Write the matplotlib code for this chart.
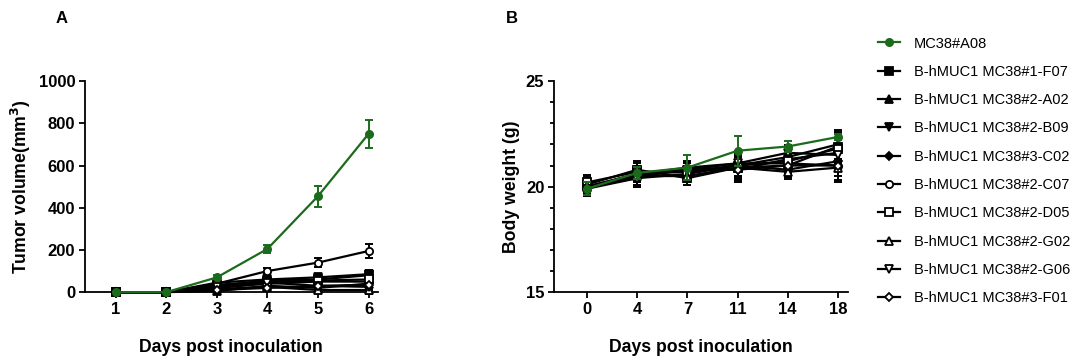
import numpy as np
import matplotlib.pyplot as plt

plt.rcParams['font.family'] = ['Liberation Sans', 'DejaVu Sans']

# Groups and marker styles
groups = ['MC38#A08', 'B-hMUC1 MC38#1-F07', 'B-hMUC1 MC38#2-A02', 'B-hMUC1 MC38#2-B09',
          'B-hMUC1 MC38#3-C02', 'B-hMUC1 MC38#2-C07', 'B-hMUC1 MC38#2-D05',
          'B-hMUC1 MC38#2-G02', 'B-hMUC1 MC38#2-G06', 'B-hMUC1 MC38#3-F01']
markers = ['o', 's', '^', 'v', 'D', 'o', 's', '^', 'v', 'D']
filled = [True, True, True, True, True, False, False, False, False, False]

# Panel A: tumor volume (mm3)
days_a = [1, 2, 3, 4, 5, 6]
vol_a08 = [0, 0, 70, 205, 455, 750]
vol_f07 = [0, 0, 30, 55, 60, 80]
vol_a02 = [0, 0, 5, 30, 20, 40]
vol_b09 = [0, 0, 45, 60, 70, 85]
vol_c02 = [0, 0, 20, 40, 50, 50]
vol_c07 = [0, 0, 40, 100, 140, 195]
vol_d05 = [0, 0, 35, 50, 55, 60]
vol_g02 = [0, 0, 15, 25, 10, 10]
vol_g06 = [0, 0, 25, 45, 30, 25]
vol_f01 = [0, 0, 10, 20, 30, 35]
err_a08 = [0, 0, 10, 20, 50, 65]
err_c07 = [0, 0, 5, 12, 20, 35]
err_small = [0, 0, 8, 10, 15, 18]

# Panel B: body weight (g)
days_b = ['0', '4', '7', '11', '14', '18']
bw_a08 = [19.9, 20.65, 20.9, 21.7, 21.9, 22.35]
bw_f07 = [20.1, 20.8, 20.4, 20.9, 21.0, 21.9]
bw_a02 = [20.0, 20.6, 20.7, 21.0, 21.4, 22.0]
bw_b09 = [20.0, 20.5, 20.8, 20.8, 21.3, 21.6]
bw_c02 = [19.9, 20.4, 20.6, 21.0, 20.8, 21.2]
bw_c07 = [20.0, 20.6, 20.9, 21.1, 21.1, 21.0]
bw_d05 = [20.2, 20.7, 20.7, 21.0, 21.2, 21.8]
bw_g02 = [20.0, 20.5, 20.5, 20.9, 20.7, 20.9]
bw_g06 = [19.9, 20.6, 20.8, 21.1, 21.6, 21.5]
bw_f01 = [20.0, 20.4, 20.9, 20.8, 21.0, 21.0]
bwerr_a08 = [0.3, 0.3, 0.6, 0.7, 0.25, 0.15]
bwerr_other = [0.35, 0.4, 0.3, 0.6, 0.35, 0.7]

vols = [vol_a08, vol_f07, vol_a02, vol_b09, vol_c02, vol_c07, vol_d05, vol_g02, vol_g06, vol_f01]
vol_errs = [err_a08] + [err_small] * 4 + [err_c07] + [err_small] * 4
bws = [bw_a08, bw_f07, bw_a02, bw_b09, bw_c02, bw_c07, bw_d05, bw_g02, bw_g06, bw_f01]
bw_errs = [bwerr_a08] + [bwerr_other] * 9

green = '#1c6b1c'

fig = plt.figure(figsize=(10.8, 3.62), dpi=100)
ax_a = fig.add_axes([0.0787, 0.193, 0.271, 0.583])
ax_b = fig.add_axes([0.513, 0.193, 0.272, 0.583])


def draw(ax, x, series, errs):
    for i in range(len(groups)):
        col = green if i == 0 else 'black'
        face = col if filled[i] else 'white'
        ms = 4 if markers[i] == 'D' else 5.2
        z = 10 if i == 0 else 3
        ax.errorbar(x, series[i], yerr=errs[i], fmt='none', ecolor=col,
                    elinewidth=1.4, capsize=3, capthick=1.4, zorder=z, clip_on=False)
        ax.plot(x, series[i], marker=markers[i], color=col, mfc=face, mec=col,
                mew=1.3, ms=ms, lw=1.6, label=groups[i], zorder=z + 1, clip_on=False)


draw(ax_a, days_a, vols, vol_errs)
xb = np.arange(len(days_b))
draw(ax_b, xb, bws, bw_errs)

for ax in (ax_a, ax_b):
    for s in ('top', 'right'):
        ax.spines[s].set_visible(False)
    for s in ('left', 'bottom'):
        ax.spines[s].set_linewidth(1.3)
    ax.tick_params(width=1.3, length=4, labelsize=12, pad=3)

ax_a.set_xlim(0.39, 6.18)
ax_a.set_ylim(0, 1000)
ax_a.set_xticks(days_a)
ax_a.set_yticks(np.arange(0, 1001, 200))
ax_a.set_ylabel('Tumor volume(mm$\\mathbf{^3}$)', fontsize=12.7, fontweight='bold')
ax_a.set_xlabel('Days post inoculation', fontsize=12.7, fontweight='bold', labelpad=16)

ax_b.set_xlim(-0.66, 5.2)
ax_b.set_ylim(15, 25)
ax_b.set_xticks(xb)
ax_b.set_xticklabels(days_b)
ax_b.set_yticks([15, 20, 25])
ax_b.set_yticks(np.arange(15, 26, 1), minor=True)
ax_b.tick_params(which='minor', width=1.3, length=3)
ax_b.set_ylabel('Body weight (g)', fontsize=12.7, fontweight='bold')
ax_b.set_xlabel('Days post inoculation', fontsize=12.7, fontweight='bold', labelpad=16)

for ax in (ax_a, ax_b):
    for lab in ax.get_xticklabels() + ax.get_yticklabels():
        lab.set_fontweight('bold')

# Legend on the right
handles, labels = ax_b.get_legend_handles_labels()
fig.legend(handles, labels, loc='upper left', bbox_to_anchor=(0.808, 0.915),
           frameon=False, fontsize=10.5, handlelength=1.45, handletextpad=1.0,
           labelspacing=0.98, borderaxespad=0)

fig.text(0.051, 0.95, 'A', fontsize=12, fontweight='bold', va='center')
fig.text(0.468, 0.95, 'B', fontsize=12, fontweight='bold', va='center')

plt.savefig('out.png', dpi=100)
